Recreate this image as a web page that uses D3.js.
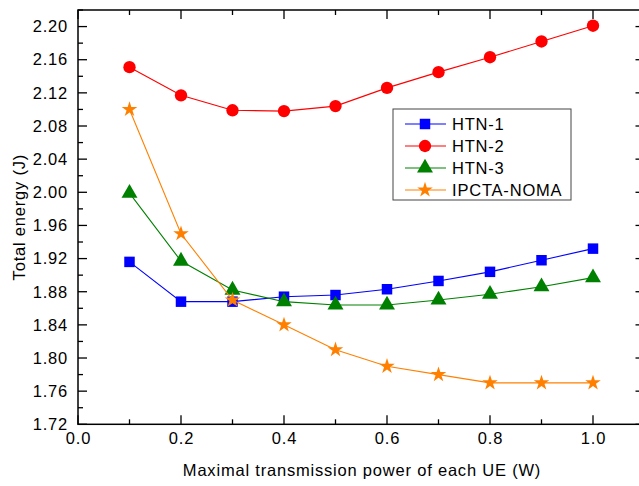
<!DOCTYPE html>
<html>
<head>
<meta charset="utf-8">
<script src="https://cdn.jsdelivr.net/npm/d3@7"></script>
<style>
  body { margin: 0; background: #fff; }
  text { font-family: "Liberation Sans", Arial, sans-serif; fill: #000; letter-spacing: 0.8px; }
</style>
</head>
<body>
<div id="chart"></div>
<script>
// chart data
var power = [0.1, 0.2, 0.3, 0.4, 0.5, 0.6, 0.7, 0.8, 0.9, 1.0];
var htn1 = [1.916, 1.868, 1.868, 1.874, 1.876, 1.883, 1.893, 1.904, 1.918, 1.932];
var htn2 = [2.151, 2.117, 2.099, 2.098, 2.104, 2.126, 2.145, 2.163, 2.182, 2.201];
var htn3 = [1.999, 1.917, 1.882, 1.868, 1.864, 1.864, 1.870, 1.877, 1.886, 1.897];
var ipcta = [2.10, 1.95, 1.87, 1.84, 1.81, 1.79, 1.78, 1.77, 1.77, 1.77];
var seriesNames = ["HTN-1", "HTN-2", "HTN-3", "IPCTA-NOMA"];
var xTicks = [0.0, 0.2, 0.4, 0.6, 0.8, 1.0];
var yTicks = [1.72, 1.76, 1.80, 1.84, 1.88, 1.92, 1.96, 2.00, 2.04, 2.08, 2.12, 2.16, 2.20];

var svgWidth = 639;
var svgHeight = 486;
var fontSize = 16.5;

var svg = d3.select("#chart").append("svg")
    .attr("width", svgWidth)
    .attr("height", svgHeight);

var margin = { top: 10, left: 78 };
var plotRight = 644.5;
var plotBottom = 424.3;

var x = d3.scaleLinear().domain([0, 1.1]).range([margin.left, plotRight]);
var y = d3.scaleLinear().domain([1.72, 2.22]).range([plotBottom, margin.top]);

var series = [
    { name: seriesNames[0], values: htn1, color: "#0000ff", symbol: d3.symbolSquare, size: 110 },
    { name: seriesNames[1], values: htn2, color: "#ff0000", symbol: d3.symbolCircle, size: 120 },
    { name: seriesNames[2], values: htn3, color: "#008000", symbol: d3.symbolTriangle, size: 110 },
    { name: seriesNames[3], values: ipcta, color: "#ff8000", symbol: d3.symbolStar, size: 75 }
];

// axes, ticks pointing inward
var xMinor = d3.range(0, 1.11, 0.1);
var yMinor = d3.range(1.72, 2.221, 0.02);

svg.append("g")
    .attr("transform", `translate(0,${plotBottom})`)
    .call(d3.axisBottom(x).tickValues(xTicks).tickFormat(d3.format(".1f")).tickSize(0).tickPadding(8))
    .call(g => g.select(".domain").remove())
    .selectAll("text").attr("font-size", fontSize).attr("font-family", "Liberation Sans, Arial, sans-serif");

svg.append("g")
    .attr("transform", `translate(${margin.left},0)`)
    .call(d3.axisLeft(y).tickValues(yTicks).tickFormat(d3.format(".2f")).tickSize(0).tickPadding(10))
    .call(g => g.select(".domain").remove())
    .selectAll("text").attr("font-size", fontSize).attr("font-family", "Liberation Sans, Arial, sans-serif");

var ticks = svg.append("g").attr("stroke", "#000").attr("stroke-width", 1.3);
xMinor.forEach((v, i) => {
    var len = (i % 2 === 0) ? 9 : 5;
    ticks.append("line").attr("x1", x(v)).attr("x2", x(v)).attr("y1", plotBottom).attr("y2", plotBottom - len);
    ticks.append("line").attr("x1", x(v)).attr("x2", x(v)).attr("y1", margin.top).attr("y2", margin.top + len);
});
yMinor.forEach((v, i) => {
    var len = (i % 2 === 0) ? 9 : 5;
    ticks.append("line").attr("y1", y(v)).attr("y2", y(v)).attr("x1", margin.left).attr("x2", margin.left + len);
    ticks.append("line").attr("y1", y(v)).attr("y2", y(v)).attr("x1", plotRight).attr("x2", plotRight - len);
});

svg.append("rect")
    .attr("x", margin.left)
    .attr("y", margin.top)
    .attr("width", plotRight - margin.left)
    .attr("height", plotBottom - margin.top)
    .attr("fill", "none")
    .attr("stroke", "#000")
    .attr("stroke-width", 1.5);

// lines and markers
var line = d3.line()
    .x((d, i) => x(power[i]))
    .y(d => y(d));

series.forEach(s => {
    svg.append("path")
        .datum(s.values)
        .attr("fill", "none")
        .attr("stroke", s.color)
        .attr("stroke-width", 1.1)
        .attr("d", line);

    svg.selectAll(null).data(s.values)
      .enter().append("path")
        .attr("transform", (d, i) => `translate(${x(power[i])},${y(d)})`)
        .attr("d", d3.symbol().type(s.symbol).size(s.size))
        .attr("fill", s.color);
});

// legend
var legend = svg.append("g").attr("transform", "translate(393,109)");
legend.append("rect")
    .attr("width", 178)
    .attr("height", 91)
    .attr("fill", "#fff")
    .attr("stroke", "#444")
    .attr("stroke-width", 1);

series.forEach((s, i) => {
    var ly = 15 + i * 22;
    legend.append("line")
        .attr("x1", 12).attr("x2", 53)
        .attr("y1", ly).attr("y2", ly)
        .attr("stroke", s.color).attr("stroke-width", 1.1);
    legend.append("path")
        .attr("transform", `translate(32,${ly})`)
        .attr("d", d3.symbol().type(s.symbol).size(s.size))
        .attr("fill", s.color);
    legend.append("text")
        .attr("x", 59)
        .attr("y", ly)
        .attr("dy", "0.35em")
        .attr("font-size", fontSize)
        .text(s.name);
});

// axis titles
svg.append("text")
    .attr("x", 362)
    .attr("y", 476)
    .attr("text-anchor", "middle")
    .attr("font-size", fontSize)
    .text("Maximal transmission power of each UE (W)");

svg.append("text")
    .attr("transform", `translate(25,${(margin.top + plotBottom) / 2}) rotate(-90)`)
    .attr("text-anchor", "middle")
    .attr("font-size", fontSize)
    .text("Total energy (J)");
</script>
</body>
</html>
